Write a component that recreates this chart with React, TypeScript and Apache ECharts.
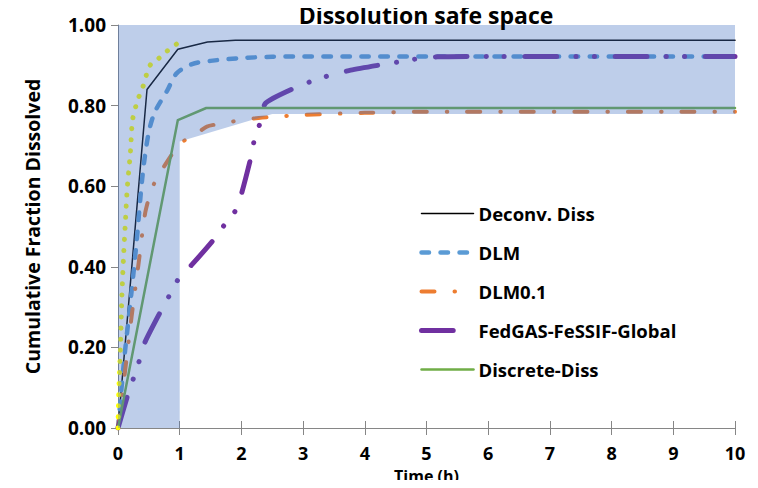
import React, { useEffect, useRef } from "react";
import * as echarts from "echarts";

// Time points (h) and cumulative fraction dissolved for each profile
const deconvT = [0, 0.47, 0.97, 1.45, 1.9, 10];
const deconvF = [0, 0.84, 0.94, 0.958, 0.962, 0.962];

const dlmT = [0, 0.1, 0.2, 0.3, 0.4, 0.5, 0.6, 0.8, 0.95, 1.2, 1.5, 2, 2.5, 3, 10];
const dlmF = [0, 0.17, 0.31, 0.46, 0.63, 0.735, 0.785, 0.838, 0.88, 0.903, 0.911, 0.918, 0.921, 0.922, 0.922];

const dlm01T = [0, 0.12, 0.22, 0.33, 0.44, 0.55, 0.71, 1, 1.28, 1.44, 1.76, 2.2, 2.6, 3, 4, 5, 10];
const dlm01F = [0, 0.148, 0.276, 0.404, 0.533, 0.595, 0.64, 0.705, 0.731, 0.748, 0.758, 0.768, 0.773, 0.777, 0.782, 0.785, 0.785];

const fedT = [0, 0.15, 0.25, 0.35, 0.44, 0.69, 0.83, 0.98, 1.19, 1.55, 1.73, 1.92, 2.01, 2.15, 2.21, 2.31, 2.39, 2.85, 3.15, 3.45, 3.77, 4.29, 4.58, 4.88, 5.18, 6, 10];
const fedF = [0, 0.078, 0.123, 0.169, 0.214, 0.289, 0.328, 0.37, 0.404, 0.467, 0.505, 0.543, 0.586, 0.669, 0.715, 0.76, 0.806, 0.843, 0.861, 0.876, 0.888, 0.902, 0.909, 0.917, 0.921, 0.922, 0.922];

const discreteT = [0, 0.97, 1.43, 10];
const discreteF = [0, 0.764, 0.794, 0.794];

// Unlabelled dotted reference profile
const refT = [0, 0.01, 0.04, 0.06, 0.09, 0.12, 0.15, 0.2, 0.24, 0.33, 0.4, 0.52, 0.66, 0.8, 0.97];
const refF = [0, 0.078, 0.2, 0.313, 0.425, 0.512, 0.595, 0.682, 0.768, 0.818, 0.845, 0.9, 0.917, 0.936, 0.955];

// Safe space outline (time, fraction), traced clockwise
const safeT = [0, 0, 10, 10, 2.5, 1, 1];
const safeF = [0, 1, 1, 0.779, 0.779, 0.711, 0];

const xTicks = [0, 1, 2, 3, 4, 5, 6, 7, 8, 9, 10];
const yTicks = [0, 0.2, 0.4, 0.6, 0.8, 1.0];

const FONT = "Open Sans";
const AXIS_GRAY = "#868686";

type Style = { name: string; color: string; width: number; type: any; legendType?: any };

const styles: Style[] = [
  { name: "Deconv. Diss", color: "#000000", width: 1.5, type: "solid" },
  { name: "DLM", color: "#5B9BD5", width: 4.5, type: [7.5, 11.5] },
  { name: "DLM0.1", color: "#ED7D31", width: 4, type: [13, 20, 0.5, 20] },
  {
    name: "FedGAS-FeSSIF-Global",
    color: "#7030A0",
    width: 5,
    type: [31.7, 19.2, 0.1, 18.2, 0.1, 20.7],
    legendType: [31.7, 40],
  },
  { name: "Discrete-Diss", color: "#70AD47", width: 2.5, type: "solid" },
];

const zip = (xs: number[], ys: number[]) => xs.map((x, i) => [x, ys[i]]);

export default function App() {
  const ref = useRef<HTMLDivElement>(null);

  useEffect(() => {
    if (!ref.current) return;
    const chart = echarts.init(ref.current, undefined, { renderer: "svg" });

    const lineSeries = (s: Style, xs: number[], ys: number[], smooth: number | boolean = false) => ({
      name: s.name,
      type: "line",
      data: zip(xs, ys),
      showSymbol: false,
      symbol: "none",
      smooth,
      z: 2,
      lineStyle: { color: s.color, width: s.width, type: s.type, cap: "round", join: "round" },
      itemStyle: { color: s.color },
    });

    chart.setOption({
      animation: false,
      title: {
        text: "Dissolution safe space",
        left: 421,
        top: -2,
        textAlign: "center",
        textStyle: { fontFamily: FONT, fontWeight: "bold", fontSize: 23, color: "#000" },
      },
      grid: { left: 118, right: 23, top: 25, bottom: 60, containLabel: false, outerBoundsMode: "none" },
      legend: {
        orient: "vertical",
        left: 414,
        top: 199,
        itemWidth: 52,
        itemHeight: 14,
        itemGap: 20,
        itemStyle: { opacity: 0 },
        data: styles.map((s) => ({
          name: s.name,
          itemStyle: { opacity: 0 },
          lineStyle: { color: s.color, width: s.width, type: s.legendType ?? s.type, cap: "round", opacity: 1 },
        })),
        textStyle: { fontFamily: FONT, fontWeight: "bold", fontSize: 18.5, color: "#000" },
      },
      xAxis: [
        {
          type: "value",
          min: 0,
          max: 10,
          interval: 1,
          name: "Time (h)",
          nameLocation: "middle",
          nameGap: 19,
          nameTextStyle: { fontFamily: FONT, fontWeight: "bold", fontSize: 16, color: "#000", lineHeight: 18 },
          axisLine: { show: true, lineStyle: { color: AXIS_GRAY, width: 1 } },
          axisTick: { show: true, length: 7, lineStyle: { color: AXIS_GRAY } },
          axisLabel: {
            fontFamily: FONT,
            fontWeight: "bold",
            fontSize: 18,
            color: "#000",
            margin: 16,
            customValues: xTicks,
          },
          splitLine: { show: false },
        },
        {
          type: "value",
          min: 0,
          max: 10,
          interval: 1,
          position: "bottom",
          axisLine: { show: false },
          axisTick: { show: true, inside: true, length: 7, lineStyle: { color: AXIS_GRAY } },
          axisLabel: { show: false },
          splitLine: { show: false },
        },
      ],
      yAxis: {
        type: "value",
        min: 0,
        max: 1,
        interval: 0.2,
        name: "Cumulative Fraction Dissolved",
        nameLocation: "middle",
        nameGap: 76,
        nameTextStyle: { fontFamily: FONT, fontWeight: "bold", fontSize: 19.5, color: "#000" },
        axisLine: { show: true, lineStyle: { color: AXIS_GRAY, width: 1 } },
        axisTick: { show: true, length: 7, lineStyle: { color: AXIS_GRAY } },
        axisLabel: {
          fontFamily: FONT,
          fontWeight: "bold",
          fontSize: 19,
          color: "#000",
          margin: 12,
          customValues: yTicks,
          formatter: (v: number) => v.toFixed(2),
        },
        splitLine: { show: false },
      },
      series: [
        lineSeries(styles[0], deconvT, deconvF),
        lineSeries(styles[1], dlmT, dlmF, 0.3),
        lineSeries(styles[2], dlm01T, dlm01F, 0.2),
        lineSeries(styles[3], fedT, fedF, 0.2),
        lineSeries(styles[4], discreteT, discreteF),
        lineSeries({ name: "ref", color: "#FFFF00", width: 5, type: [0.1, 11] }, refT, refF, 0.3),
        {
          name: "safe space",
          type: "custom",
          z: 5,
          silent: true,
          data: [[0, 0]],
          renderItem: (_params: any, api: any) => ({
            type: "polygon",
            shape: { points: safeT.map((t, i) => api.coord([t, safeF[i]])) },
            style: { fill: "#4472C4", opacity: 0.35 },
          }),
        },
      ],
    });

    return () => chart.dispose();
  }, []);

  return <div ref={ref} style={{ width: 758, height: 488, margin: -8 }} />;
}
